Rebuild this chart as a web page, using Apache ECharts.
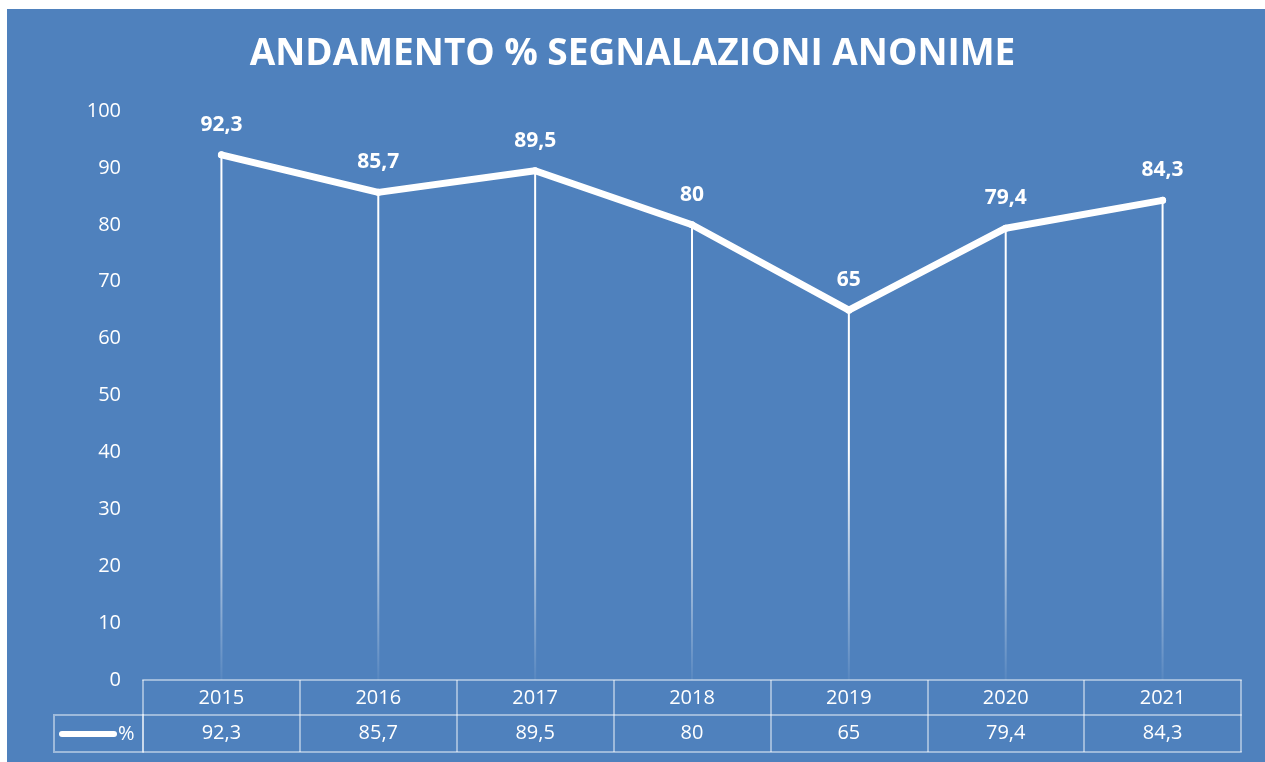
<!DOCTYPE html>
<html><head><meta charset="utf-8">
<script src="https://cdn.jsdelivr.net/npm/echarts@6/dist/echarts.min.js"></script>
<style>html,body{margin:0;padding:0;background:#fff;}#c{width:1265px;height:762px;}</style>
</head><body><div id="c"></div>
<script>
const title = 'ANDAMENTO % SEGNALAZIONI ANONIME';
const categories = ['2015','2016','2017','2018','2019','2020','2021'];
const values = [92.3, 85.7, 89.5, 80, 65, 79.4, 84.3];
const seriesName = '%';
const yTicks = {min: 0, max: 100, interval: 10};

const fmt = v => String(v).replace('.', ',');
const FONT = 'Open Sans';
const BORDER = 'rgba(255,255,255,0.45)';
const chart = echarts.init(document.getElementById('c'), null, {renderer: 'canvas'});
const tableLabel = {color: '#fff', fontSize: 20, fontFamily: FONT};
chart.setOption({
  backgroundColor: '#fff',
  graphic: [
    {type: 'rect', z: -10, shape: {x: 7, y: 9, width: 1265, height: 762}, style: {fill: '#4F81BD'}},
    {type: 'rect', z: 5, shape: {x: 54, y: 715, width: 89, height: 37}, style: {fill: 'none', stroke: BORDER, lineWidth: 2}},
    {type: 'line', z: 6, shape: {x1: 62, y1: 734, x2: 114, y2: 734}, style: {stroke: '#fff', lineWidth: 6, lineCap: 'round'}},
    {type: 'text', z: 6, style: {x: 118, y: 734, text: seriesName, fill: '#fff', font: '20px "Open Sans"', textVerticalAlign: 'middle'}}
  ],
  title: {text: title, left: 'center', top: 31,
    textStyle: {color: '#fff', fontSize: 37, fontWeight: 'bold', fontFamily: FONT}},
  grid: {left: 143, right: 24, top: 111, bottom: 82},
  yAxis: {type: 'value', min: yTicks.min, max: yTicks.max, interval: yTicks.interval,
    axisLabel: {color: '#fff', fontSize: 20, fontFamily: FONT, margin: 22},
    splitLine: {show: false}, axisLine: {show: false}, axisTick: {show: false}},
  xAxis: [
    {type: 'category', data: categories, position: 'bottom', boundaryGap: true,
      axisLine: {show: true, lineStyle: {color: BORDER, width: 2}},
      axisTick: {show: true, length: 72, lineStyle: {color: BORDER, width: 2}},
      axisLabel: Object.assign({margin: 7, lineHeight: 22}, tableLabel)},
    {type: 'category', data: values.map(fmt), position: 'bottom', offset: 35, boundaryGap: true,
      axisLine: {show: true, lineStyle: {color: BORDER, width: 2}},
      axisTick: {show: false},
      axisLabel: Object.assign({margin: 8}, tableLabel)},
    {type: 'category', data: categories, position: 'bottom', offset: 72, boundaryGap: true,
      axisLine: {show: true, lineStyle: {color: BORDER, width: 2}},
      axisTick: {show: false}, axisLabel: {show: false}}
  ],
  series: [
    {type: 'bar', xAxisIndex: 0, data: values, barWidth: 2, silent: true, z: 1,
      itemStyle: {color: new echarts.graphic.LinearGradient(0, 111, 0, 680, [
        {offset: 0, color: 'rgba(255,255,255,1)'},
        {offset: 0.6, color: 'rgba(255,255,255,1)'},
        {offset: 1, color: 'rgba(255,255,255,0.05)'}], true)}},
    {type: 'line', name: seriesName, xAxisIndex: 0, data: values, z: 3,
      lineStyle: {color: '#fff', width: 7, cap: 'round', join: 'round'},
      symbol: 'circle', symbolSize: 7, itemStyle: {color: '#fff'},
      label: {show: true, position: 'top', distance: 16, color: '#fff', fontSize: 21,
        fontWeight: 'bold', fontFamily: FONT, formatter: p => fmt(p.value)}}
  ],
  animation: false
});
</script></body></html>
